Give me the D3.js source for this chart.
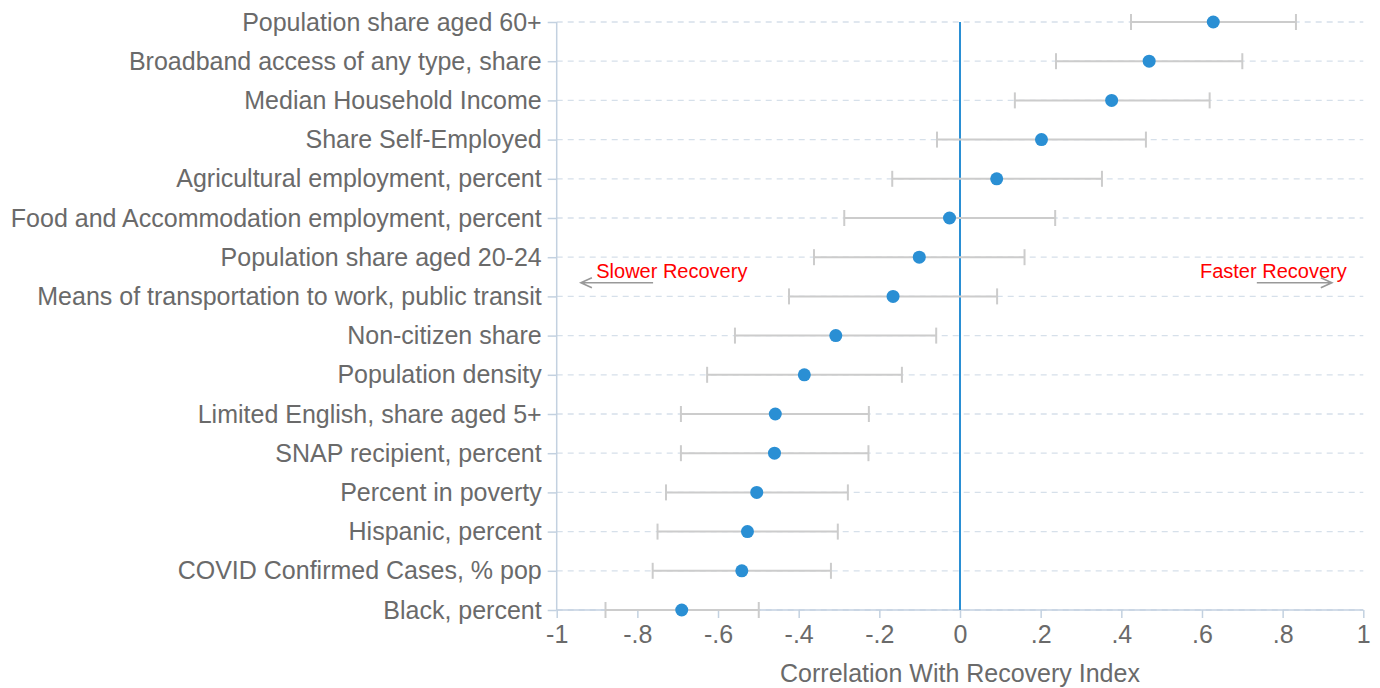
<!DOCTYPE html>
<html>
<head>
<meta charset="utf-8">
<script src="https://cdn.jsdelivr.net/npm/d3@7"></script>
<style>
  html, body { margin: 0; padding: 0; background: #fff; }
  svg { display: block; font-family: "Liberation Sans", Arial, sans-serif; }
</style>
</head>
<body>
<svg id="chart" width="1380" height="688"></svg>
<script>
// Correlates of the recovery index, with 95% confidence intervals
const variables = [
  "Population share aged 60+",
  "Broadband access of any type, share",
  "Median Household Income",
  "Share Self-Employed",
  "Agricultural employment, percent",
  "Food and Accommodation employment, percent",
  "Population share aged 20-24",
  "Means of transportation to work, public transit",
  "Non-citizen share",
  "Population density",
  "Limited English, share aged 5+",
  "SNAP recipient, percent",
  "Percent in poverty",
  "Hispanic, percent",
  "COVID Confirmed Cases, % pop",
  "Black, percent"
];
const correlation = [0.628, 0.469, 0.376, 0.202, 0.091, -0.026, -0.101, -0.166,
                     -0.308, -0.386, -0.458, -0.460, -0.504, -0.527, -0.541, -0.690];
const ciLow  = [0.424, 0.238, 0.136, -0.057, -0.168, -0.287, -0.362, -0.424,
                -0.558, -0.627, -0.692, -0.692, -0.729, -0.750, -0.762, -0.879];
const ciHigh = [0.833, 0.700, 0.619, 0.461, 0.352, 0.236, 0.160, 0.092,
                -0.059, -0.144, -0.226, -0.227, -0.278, -0.303, -0.320, -0.499];
const xTicks = [-1, -0.8, -0.6, -0.4, -0.2, 0, 0.2, 0.4, 0.6, 0.8, 1];
const xTickLabels = ["-1", "-.8", "-.6", "-.4", "-.2", "0", ".2", ".4", ".6", ".8", "1"];
const xTitle = "Correlation With Recovery Index";
const slowerLabel = "Slower Recovery";
const fasterLabel = "Faster Recovery";

const svg = d3.select("#chart");
const plotLeft = 556.7, plotRight = 1363.3, plotTop = 22, plotBottom = 610;

const x = d3.scaleLinear().domain([-1, 1]).range([plotLeft, plotRight]);
const y = d3.scalePoint().domain(variables).range([plotTop, plotBottom]);

const blue = "#2a8fd4";
const axisColor = "#c3d1e0";
const textColor = "#6a6a6a";
const labelSize = 25;

// dashed horizontal gridlines
svg.append("g").selectAll("line").data(variables).join("line")
  .attr("x1", plotLeft).attr("x2", plotRight)
  .attr("y1", d => y(d)).attr("y2", d => y(d))
  .attr("stroke", "#d6e0ea").attr("stroke-width", 1.3)
  .attr("stroke-dasharray", "6,5");

// y axis
const yAxis = svg.append("g").attr("transform", `translate(${plotLeft},0)`)
  .call(d3.axisLeft(y).tickSize(9).tickPadding(6));
yAxis.select(".domain").attr("stroke", axisColor).attr("stroke-width", 1.5)
  .attr("d", `M0,${plotTop}V${plotBottom}`);
yAxis.selectAll(".tick line").attr("stroke", axisColor).attr("stroke-width", 1.5);
yAxis.selectAll(".tick text").attr("fill", textColor).attr("font-size", labelSize)
  .attr("font-family", "'Liberation Sans', Arial, sans-serif");

// x axis
const xAxis = svg.append("g").attr("transform", `translate(0,${plotBottom})`)
  .call(d3.axisBottom(x).tickValues(xTicks).tickSize(8).tickPadding(7)
    .tickFormat((d, i) => xTickLabels[i]));
xAxis.select(".domain").attr("stroke", axisColor).attr("stroke-width", 1.5)
  .attr("d", `M${plotLeft},0H${plotRight}`);
xAxis.selectAll(".tick line").attr("stroke", axisColor).attr("stroke-width", 1.5);
xAxis.selectAll(".tick text").attr("fill", textColor).attr("font-size", labelSize)
  .attr("font-family", "'Liberation Sans', Arial, sans-serif");

svg.append("text")
  .attr("x", x(0)).attr("y", 682)
  .attr("text-anchor", "middle").attr("fill", textColor).attr("font-size", labelSize)
  .text(xTitle);

// zero reference line
svg.append("line")
  .attr("x1", x(0)).attr("x2", x(0)).attr("y1", plotTop).attr("y2", plotBottom)
  .attr("stroke", blue).attr("stroke-width", 2);

// confidence intervals
const rows = variables.map((v, i) => ({ v, r: correlation[i], lo: ciLow[i], hi: ciHigh[i] }));
const ci = svg.append("g").attr("stroke", "#cccccc").attr("stroke-width", 2);
ci.selectAll("line.span").data(rows).join("line").attr("class", "span")
  .attr("x1", d => x(d.lo)).attr("x2", d => x(d.hi))
  .attr("y1", d => y(d.v)).attr("y2", d => y(d.v));
ci.selectAll("line.lo").data(rows).join("line").attr("class", "lo")
  .attr("x1", d => x(d.lo)).attr("x2", d => x(d.lo))
  .attr("y1", d => y(d.v) - 8).attr("y2", d => y(d.v) + 8);
ci.selectAll("line.hi").data(rows).join("line").attr("class", "hi")
  .attr("x1", d => x(d.hi)).attr("x2", d => x(d.hi))
  .attr("y1", d => y(d.v) - 8).attr("y2", d => y(d.v) + 8);

// point estimates
svg.append("g").selectAll("circle").data(rows).join("circle")
  .attr("cx", d => x(d.r)).attr("cy", d => y(d.v)).attr("r", 6.5)
  .attr("fill", blue);

// direction annotations
const annY = (y(variables[6]) + y(variables[7])) / 2;
function arrow(x1, x2) {
  const yy = annY + 6;
  const dir = Math.sign(x2 - x1);
  svg.append("path")
    .attr("d", `M${x1},${yy}H${x2}M${x2 - dir * 11},${yy - 5}L${x2},${yy}L${x2 - dir * 11},${yy + 5}`)
    .attr("fill", "none").attr("stroke", "#999999").attr("stroke-width", 1.6);
}
svg.append("text").attr("x", x(-0.902)).attr("y", annY + 0.8)
  .attr("fill", "#ff0000").attr("font-size", 20).text(slowerLabel);
arrow(x(-0.761), x(-0.940));
svg.append("text").attr("x", x(0.595)).attr("y", annY + 0.8)
  .attr("fill", "#ff0000").attr("font-size", 20).text(fasterLabel);
arrow(x(0.736), x(0.922));
</script>
</body>
</html>
